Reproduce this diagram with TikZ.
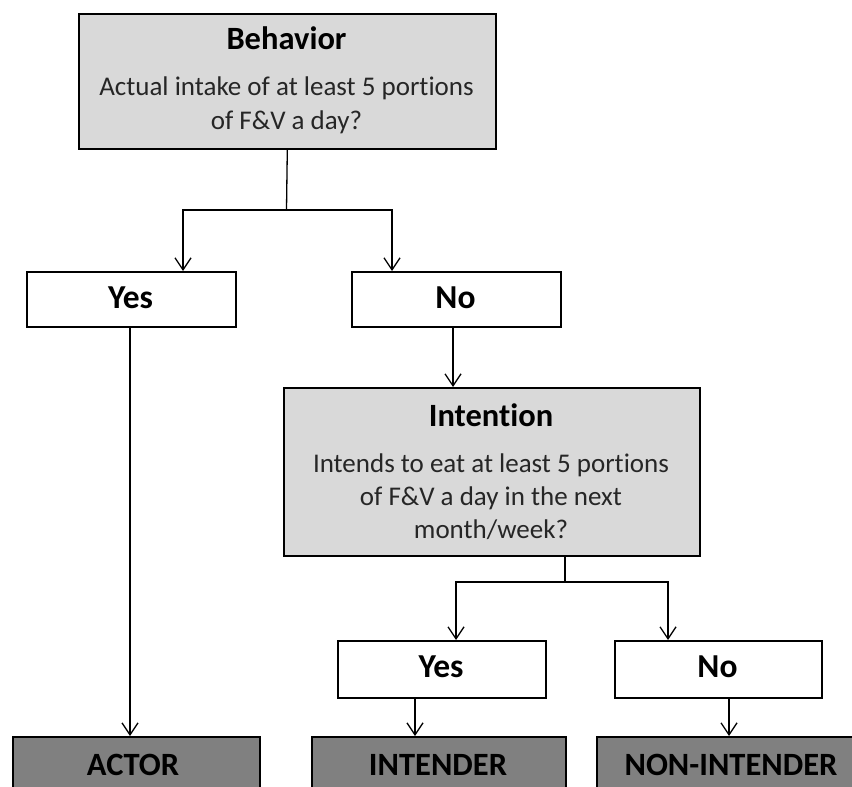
\documentclass[tikz,border=0pt]{standalone}
\usepackage{fontspec}
\setmainfont{Carlito}[Ligatures={NoCommon,NoDiscretionary}]
\usetikzlibrary{arrows.meta}
\definecolor{lightg}{HTML}{D9D9D9}
\definecolor{darkg}{HTML}{808080}
\begin{document}
\begin{tikzpicture}[x=1pt,y=-1pt,
  box/.style={draw=black, line width=1.6pt, inner sep=0pt, anchor=north west},
  qbox/.style={box, fill=lightg},
  ybox/.style={box, fill=white},
  rbox/.style={box, fill=darkg},
  conn/.style={draw=black, line width=1.3pt},
  arr/.style={conn, -{Straight Barb[length=12pt,width=16pt]}},
  ttl/.style={font=\bfseries\fontsize{32.5}{36}\selectfont, inner sep=0pt},
  body/.style={font=\fontsize{27}{32}\selectfont, inner sep=0pt, text=black!85},
  ans/.style={font=\bfseries\fontsize{33.5}{38}\selectfont, inner sep=0pt},
  res/.style={font=\bfseries\fontsize{32.5}{36}\selectfont, inner sep=0pt}]
\path[use as bounding box] (0,0) rectangle (852,787);
\clip (0,0) rectangle (852,787);
% boxes
\node[qbox, minimum width=417pt, minimum height=135pt] (beh) at (78,13) {};
\node[ybox, minimum width=209pt, minimum height=55pt] (yes1) at (26,271) {};
\node[ybox, minimum width=209pt, minimum height=55pt] (no1) at (351,271) {};
\node[qbox, minimum width=416pt, minimum height=168pt] (int) at (283,387) {};
\node[ybox, minimum width=208pt, minimum height=57pt] (yes2) at (337,640) {};
\node[ybox, minimum width=207pt, minimum height=57pt] (no2) at (614,640) {};
\node[rbox, minimum width=247pt, minimum height=80pt] (actor) at (12,736) {};
\node[rbox, minimum width=254pt, minimum height=80pt] (intender) at (311,736) {};
\node[rbox, minimum width=280pt, minimum height=80pt] (nonint) at (596,736) {};
% texts
\node[ttl] (behT) at (286.5,38) {Behavior};
\node[body] (behL1) at (286.5,88) {Actual intake of at least 5 portions};
\node[body] (behL2) at (286.5,122) {of F\&V a day?};
\node[ans] (yes1T) at (130.5,298) {Yes};
\node[ans] (no1T) at (455.5,298) {No};
\node[ttl] (intT) at (491,415) {Intention};
\node[body] (intL1) at (491,465) {Intends to eat at least 5 portions};
\node[body] (intL2) at (491,498) {of F\&V a day in the next};
\node[body] (intL3) at (491,530) {month/week?};
\node[ans] (yes2T) at (441,667) {Yes};
\node[ans] (no2T) at (717.5,667) {No};
\node[res] (actorT) at (133,765) {ACTOR};
\node[res] (intenderT) at (438,765) {INTENDER};
\node[res] (nonintT) at (731,765) {NON-INTENDER};
% connectors
\coordinate (bj) at (286.5,210);
\coordinate (bjL) at (183,210);
\coordinate (bjR) at (392,210);
\draw[conn] (beh.south) -- (bj);
\draw[arr] (bj) -- (bjL) -- (bjL |- yes1.north);
\draw[arr] (bj) -- (bjR) -- (bjR |- no1.north);
\coordinate (ya) at (130,326);
\draw[arr] (ya) -- (ya |- actor.north);
\coordinate (na) at (453,326);
\draw[arr] (na) -- (na |- int.north);
\coordinate (is) at (565,555);
\coordinate (ij) at (565,582);
\coordinate (ijL) at (456,582);
\coordinate (ijR) at (668,582);
\draw[conn, line width=2pt] (is) -- (ij);
\draw[arr] (ij) -- (ijL) -- (ijL |- yes2.north);
\draw[arr] (ij) -- (ijR) -- (ijR |- no2.north);
\coordinate (y2a) at (415,697);
\draw[arr] (y2a) -- (y2a |- intender.north);
\coordinate (n2a) at (729,697);
\draw[arr] (n2a) -- (n2a |- nonint.north);
\end{tikzpicture}
\end{document}
